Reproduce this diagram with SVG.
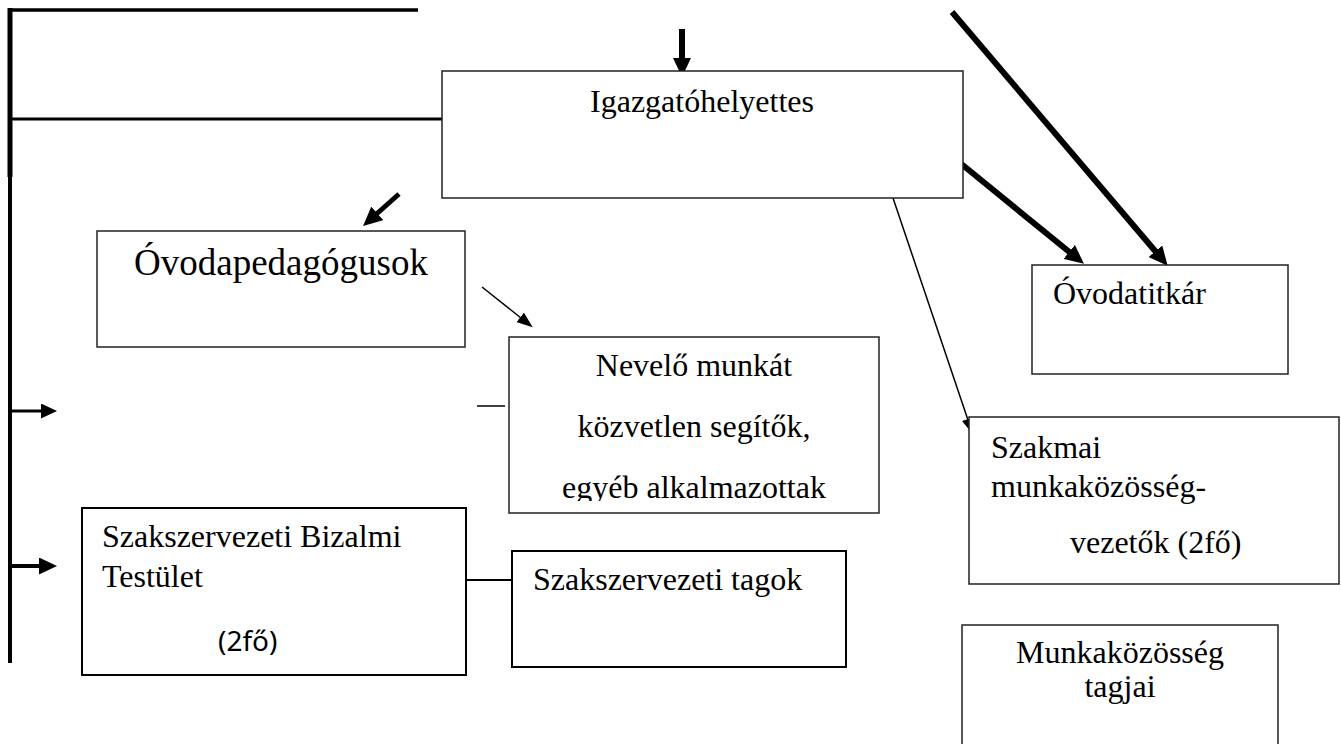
<svg xmlns="http://www.w3.org/2000/svg" width="1341" height="744" viewBox="0 0 1341 744">
<style>
.box{fill:#fff;stroke:#222;stroke-width:1.5}
.boxb{fill:#fff;stroke:#000;stroke-width:2}
.t{font-family:"Liberation Serif","Times New Roman",serif;font-size:32px;fill:#000}
.big{font-size:37px}
.sans{font-family:"Noto Sans","Open Sans",sans-serif;font-size:28px;fill:#000}
.c{text-anchor:middle}
.ln{stroke:#000;fill:none}
</style>
<defs>
<marker id="hL" markerUnits="userSpaceOnUse" markerWidth="19" markerHeight="18" viewBox="0 0 19 18" refX="1" refY="9" orient="auto"><path d="M0,0 L19,9 L0,18 z" fill="#000"/></marker>
<marker id="hM" markerUnits="userSpaceOnUse" markerWidth="18" markerHeight="17" viewBox="0 0 18 17" refX="1" refY="8.5" orient="auto"><path d="M0,0 L18,8.5 L0,17 z" fill="#000"/></marker>
<marker id="hS" markerUnits="userSpaceOnUse" markerWidth="16" markerHeight="15" viewBox="0 0 16 15" refX="1" refY="7.5" orient="auto"><path d="M0,0 L16,7.5 L0,15 z" fill="#000"/></marker>
<marker id="hT" markerUnits="userSpaceOnUse" markerWidth="16" markerHeight="12" viewBox="0 0 16 12" refX="1" refY="6" orient="auto"><path d="M0,0 L16,6 L0,12 z" fill="#000"/></marker>
<clipPath id="clipNev"><rect x="509" y="337" width="370" height="164"/></clipPath>
</defs>

<g id="connectors">
<line class="ln" x1="8" y1="10" x2="418" y2="10" stroke-width="3.5"/>
<line class="ln" x1="10" y1="8" x2="10" y2="177" stroke-width="5"/>
<line class="ln" x1="10" y1="177" x2="10" y2="663" stroke-width="4"/>
<line class="ln" x1="10" y1="119" x2="442" y2="119" stroke-width="3"/>
<line class="ln" x1="10" y1="411" x2="42" y2="411" stroke-width="3" marker-end="url(#hS)"/>
<line class="ln" x1="10" y1="566" x2="40" y2="566" stroke-width="4" marker-end="url(#hM)"/>
<line class="ln" x1="682" y1="29" x2="682" y2="59" stroke-width="6" marker-end="url(#hL)"/>
<line class="ln" x1="952" y1="12" x2="1156" y2="252" stroke-width="6" marker-end="url(#hL)"/>
<line class="ln" x1="954" y1="158" x2="1070" y2="252.5" stroke-width="6" marker-end="url(#hL)"/>
<line class="ln" x1="399" y1="194" x2="376.5" y2="214" stroke-width="5" marker-end="url(#hL)"/>
<line class="ln" x1="482" y1="287" x2="521" y2="318" stroke-width="1.5" marker-end="url(#hT)"/>
<line class="ln" x1="893" y1="198" x2="968" y2="420" stroke-width="1.5" marker-end="url(#hT)"/>
<line class="ln" x1="477" y1="406" x2="505" y2="406" stroke-width="1.5"/>
<line class="ln" x1="466" y1="580" x2="512" y2="580" stroke-width="2"/>
</g>

<g id="igazgatohelyettes">
<rect class="box" x="442" y="71" width="521" height="127"/>
<text class="t c" x="702" y="112">Igazgatóhelyettes</text>
</g>

<g id="ovodapedagogusok">
<rect class="box" x="97" y="231" width="368" height="116"/>
<text class="t big c" x="281" y="275">Óvodapedagógusok</text>
</g>

<g id="ovodatitkar">
<rect class="box" x="1032" y="265" width="256" height="109"/>
<text class="t" x="1053" y="304">Óvodatitkár</text>
</g>

<g id="nevelo">
<rect class="box" x="509" y="337" width="370" height="176"/>
<g clip-path="url(#clipNev)">
<text class="t c" x="694" y="376">Nevelő munkát</text>
<text class="t c" x="694" y="437">közvetlen segítők,</text>
<text class="t c" x="694" y="498">egyéb alkalmazottak</text>
</g>
</g>

<g id="szakmai">
<rect class="box" x="969" y="417" width="370" height="167"/>
<text class="t" x="991" y="458">Szakmai</text>
<text class="t" x="991" y="497">munkaközösség-</text>
<text class="t" x="1070" y="553">vezetők (2fő)</text>
</g>

<g id="bizalmi">
<rect class="boxb" x="82" y="508" width="384" height="167"/>
<text class="t" x="102" y="547">Szakszervezeti Bizalmi</text>
<text class="t" x="102" y="587">Testület</text>
<text class="sans" x="218" y="651">(2fő)</text>
</g>

<g id="tagok">
<rect class="boxb" x="512" y="551" width="334" height="116"/>
<text class="t" x="533" y="590">Szakszervezeti tagok</text>
</g>

<g id="munkakozosseg">
<rect class="box" x="962" y="625" width="316" height="140"/>
<text class="t c" x="1120" y="663">Munkaközösség</text>
<text class="t c" x="1120" y="697">tagjai</text>
</g>
</svg>
